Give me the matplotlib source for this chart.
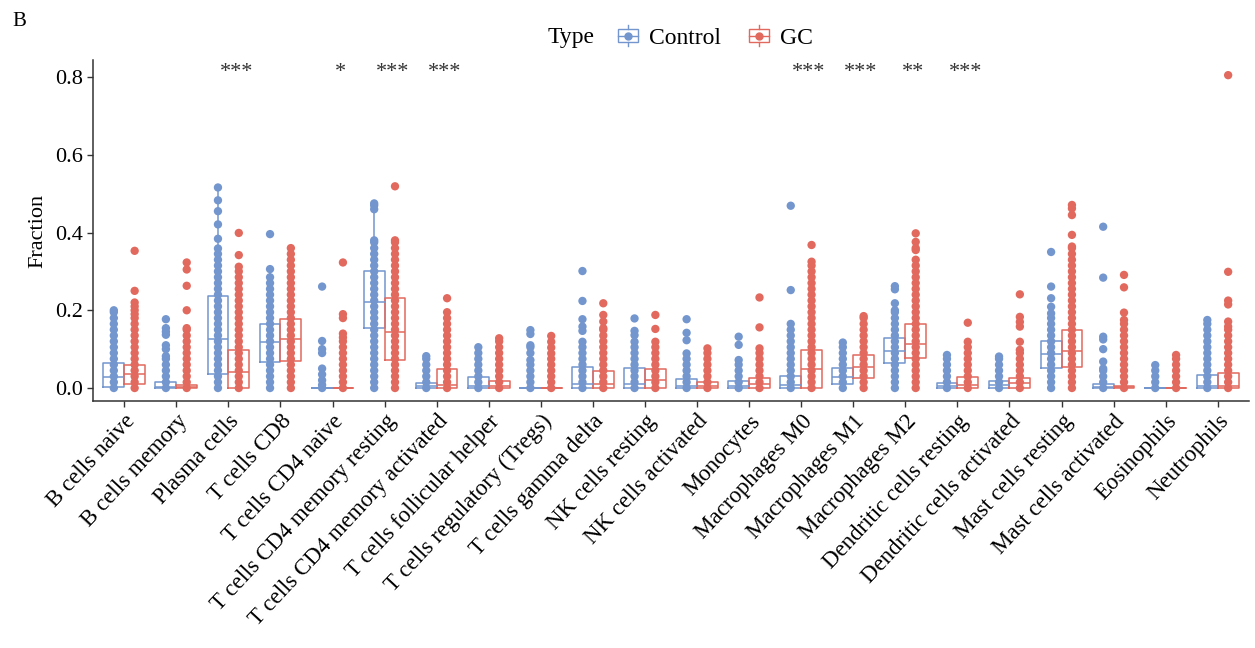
import matplotlib
matplotlib.use('Agg')
import matplotlib.pyplot as plt
from matplotlib.lines import Line2D
from matplotlib.patches import Rectangle
from matplotlib.legend_handler import HandlerBase

plt.rcParams['font.family'] = ['Liberation Serif', 'DejaVu Serif']

cell_types = ['B cells naive', 'B cells memory', 'Plasma cells', 'T cells CD8',
              'T cells CD4 naive', 'T cells CD4 memory resting',
              'T cells CD4 memory activated', 'T cells follicular helper',
              'T cells regulatory (Tregs)', 'T cells gamma delta',
              'NK cells resting', 'NK cells activated', 'Monocytes',
              'Macrophages M0', 'Macrophages M1', 'Macrophages M2',
              'Dendritic cells resting', 'Dendritic cells activated',
              'Mast cells resting', 'Mast cells activated', 'Eosinophils',
              'Neutrophils']

sig_labels = ['', '', '***', '', '*', '***', '***', '', '', '', '', '', '',
              '***', '***', '**', '***', '', '', '', '', '']

# box statistics per cell type
ctrl_q1 = [0.003, 0.0, 0.036, 0.067, 0.0, 0.154, 0.0, 0.0, 0.0, 0.0, 0.0,
           0.0, 0.0, 0.0, 0.010, 0.064, 0.0, 0.0, 0.051, 0.0, 0.0, 0.0]
ctrl_med = [0.028, 0.003, 0.125, 0.119, 0.0, 0.222, 0.005, 0.004, 0.0, 0.010,
            0.010, 0.004, 0.005, 0.008, 0.028, 0.095, 0.006, 0.008, 0.087,
            0.003, 0.0, 0.004]
ctrl_q3 = [0.065, 0.015, 0.237, 0.165, 0.0, 0.301, 0.014, 0.028, 0.0, 0.053,
           0.051, 0.023, 0.019, 0.031, 0.051, 0.128, 0.014, 0.018, 0.121,
           0.010, 0.0, 0.034]

gc_q1 = [0.010, 0.0, 0.0, 0.069, 0.0, 0.072, 0.0, 0.0, 0.0, 0.0, 0.0, 0.0,
         0.0, 0.0, 0.025, 0.076, 0.0, 0.0, 0.055, 0.0, 0.0, 0.0]
gc_med = [0.035, 0.002, 0.040, 0.125, 0.0, 0.145, 0.008, 0.004, 0.0, 0.010,
          0.021, 0.004, 0.010, 0.048, 0.053, 0.113, 0.008, 0.012, 0.096,
          0.002, 0.0, 0.006]
gc_q3 = [0.059, 0.007, 0.098, 0.177, 0.0, 0.231, 0.050, 0.017, 0.0, 0.044,
         0.048, 0.015, 0.025, 0.098, 0.085, 0.165, 0.029, 0.025, 0.149,
         0.006, 0.0, 0.038]

# sample fractions (Control)
ctrl_points = [
    [0, .015, .03, .045, .06, .075, .09, .105, .12, .135, .15, .165, .18, .195, .20],
    [0, .015, .03, .045, .06, .075, .082, .10, .11, .137, .145, .154, .177],
    [0, .015, .03, .045, .06, .075, .09, .105, .12, .135, .15, .165, .18, .195,
     .21, .225, .24, .255, .27, .285, .30, .315, .33, .345, .359, .384, .421,
     .455, .483, .516],
    [0, .015, .03, .045, .06, .075, .09, .105, .12, .135, .15, .165, .18, .195,
     .21, .225, .24, .255, .27, .285, .306, .396],
    [0, .008, .02, .035, .05, .09, .10, .121, .261],
    [0, .015, .03, .045, .06, .075, .09, .105, .12, .135, .15, .165, .18, .195,
     .21, .225, .24, .255, .27, .285, .30, .315, .33, .345, .36, .375, .38,
     .46, .47, .475],
    [0, .015, .03, .045, .06, .075, .082],
    [0, .015, .03, .045, .06, .075, .09, .105],
    [0, .015, .03, .045, .06, .072, .09, .105, .11, .139, .149],
    [0, .015, .03, .045, .06, .075, .09, .105, .119, .147, .158, .177, .224, .301],
    [0, .015, .03, .045, .06, .075, .09, .105, .119, .136, .147, .179],
    [0, .015, .03, .045, .06, .075, .089, .123, .142, .177],
    [0, .015, .03, .045, .06, .072, .111, .132],
    [0, .015, .03, .045, .06, .075, .09, .105, .12, .135, .15, .165, .252, .469],
    [0, .015, .03, .045, .06, .075, .09, .105, .117],
    [0, .015, .03, .045, .06, .075, .09, .105, .12, .135, .15, .165, .18, .195,
     .20, .218, .254, .262],
    [0, .015, .03, .045, .06, .075, .085],
    [0, .015, .03, .045, .06, .075, .081],
    [0, .015, .03, .045, .06, .075, .09, .105, .12, .135, .15, .165, .18, .192,
     .209, .231, .261, .35],
    [0, .015, .03, .045, .05, .068, .10, .125, .132, .284, .415],
    [0, .015, .03, .045, .059],
    [0, .015, .03, .045, .06, .075, .09, .105, .12, .135, .15, .165, .175],
]

# sample fractions (GC)
gc_points = [
    [0, .015, .03, .045, .06, .075, .09, .105, .12, .135, .15, .165, .18, .19,
     .20, .21, .22, .25, .353],
    [0, .015, .03, .045, .06, .075, .09, .105, .12, .135, .15, .154, .20, .263,
     .305, .323],
    [0, .015, .03, .045, .06, .075, .09, .105, .12, .135, .15, .165, .18, .195,
     .21, .225, .24, .255, .27, .285, .30, .312, .342, .399],
    [0, .015, .03, .045, .06, .075, .09, .105, .12, .135, .15, .165, .18, .195,
     .21, .225, .24, .255, .27, .285, .30, .315, .33, .345, .36],
    [0, .015, .03, .045, .06, .075, .09, .105, .12, .13, .14, .18, .19, .323],
    [0, .015, .03, .045, .06, .075, .09, .105, .12, .135, .15, .165, .18, .195,
     .21, .225, .24, .255, .27, .285, .30, .315, .33, .345, .36, .375, .38, .519],
    [0, .015, .03, .045, .06, .075, .09, .105, .12, .135, .15, .165, .18, .195, .231],
    [0, .015, .03, .045, .06, .075, .09, .105, .12, .128],
    [0, .015, .03, .045, .06, .075, .089, .104, .119, .134],
    [0, .015, .03, .045, .06, .075, .09, .105, .12, .135, .15, .154, .171, .188, .218],
    [0, .015, .03, .045, .06, .075, .09, .105, .119, .152, .188],
    [0, .015, .03, .045, .06, .075, .09, .102],
    [0, .015, .03, .045, .06, .075, .09, .102, .156, .233],
    [0, .015, .03, .045, .06, .075, .09, .105, .12, .135, .15, .165, .18, .195,
     .21, .225, .24, .255, .27, .285, .30, .315, .325, .368],
    [0, .015, .03, .045, .06, .075, .09, .105, .12, .135, .15, .165, .18, .185],
    [0, .015, .03, .045, .06, .075, .09, .105, .12, .135, .15, .165, .18, .195,
     .21, .225, .24, .255, .27, .285, .30, .315, .33, .355, .36, .376, .398],
    [0, .015, .03, .045, .06, .075, .09, .105, .119, .168],
    [0, .015, .03, .045, .06, .075, .09, .098, .119, .158, .17, .183, .241],
    [0, .015, .03, .045, .06, .075, .09, .105, .12, .135, .15, .165, .18, .195,
     .21, .225, .24, .255, .27, .285, .30, .315, .33, .345, .36, .364, .394,
     .445, .462, .471],
    [0, .015, .03, .045, .06, .075, .09, .105, .12, .135, .15, .165, .175, .194,
     .259, .291],
    [0, .015, .03, .045, .06, .075, .085],
    [0, .015, .03, .045, .06, .075, .09, .105, .12, .135, .15, .158, .171, .215,
     .225, .299, .805],
]

ctrl_color = '#7396CE'
gc_color = '#E2695E'


def box_stats(pts, q1, med, q3):
    iqr = q3 - q1
    hi = max([p for p in pts if p <= q3 + 1.5 * iqr] + [q3])
    lo = min([p for p in pts if p >= q1 - 1.5 * iqr] + [q1])
    return dict(med=med, q1=q1, q3=q3, whislo=lo, whishi=hi)


class BoxLegendHandler(HandlerBase):
    # little boxplot glyph with a dot in the middle
    def create_artists(self, legend, orig_handle, xdescent, ydescent,
                       width, height, fontsize, trans):
        c = orig_handle.get_color()
        cx = width / 2 - xdescent
        cy = height / 2 - ydescent
        bw, bh = width * 0.85, height * 0.75
        rect = Rectangle((cx - bw / 2, cy - bh / 2), bw, bh, fill=False,
                         edgecolor=c, lw=1.0, transform=trans)
        med = Line2D([cx - bw / 2, cx + bw / 2], [cy, cy], color=c, lw=1.0,
                     transform=trans)
        w_top = Line2D([cx, cx], [cy + bh / 2, cy + height * 0.62], color=c,
                       lw=1.0, transform=trans)
        w_bot = Line2D([cx, cx], [cy - bh / 2, cy - height * 0.62], color=c,
                       lw=1.0, transform=trans)
        dot = Line2D([cx], [cy], marker='o', ms=5, color=c, lw=0,
                     transform=trans)
        return [rect, med, w_top, w_bot, dot]


fig = plt.figure(figsize=(12.55, 6.48), dpi=100)
ax = fig.add_axes([0.0741, 0.3812, 0.9211, 0.5262])

groups = [
    (ctrl_points, ctrl_q1, ctrl_med, ctrl_q3, -0.2, ctrl_color),
    (gc_points, gc_q1, gc_med, gc_q3, 0.2, gc_color),
]

for pts_list, q1s, meds, q3s, off, col in groups:
    stats = [box_stats(p, a, m, b) for p, a, m, b in zip(pts_list, q1s, meds, q3s)]
    pos = [i + off for i in range(len(cell_types))]
    lp = dict(color=col, lw=1.1)
    ax.bxp(stats, positions=pos, widths=0.4, showfliers=False, showcaps=False,
           boxprops=lp, medianprops=lp, whiskerprops=lp)
    for x, pts in zip(pos, pts_list):
        ax.scatter([x] * len(pts), pts, s=36, color=col, edgecolors='none',
                   zorder=3, clip_on=False)

for i, s in enumerate(sig_labels):
    if s:
        ax.text(i + 0.15, 0.812, s, ha='center', va='center', fontsize=16,
                color='#333333')

ax.set_xlim(-0.6, 21.6)
ax.set_ylim(-0.0334, 0.844)
ax.set_xticks(range(len(cell_types)))
ax.set_xticklabels(cell_types, rotation=47, ha='right', va='top',
                   rotation_mode='anchor', fontsize=16.5)
ax.set_yticks([0.0, 0.2, 0.4, 0.6, 0.8])
ax.set_yticklabels(['0.0', '0.2', '0.4', '0.6', '0.8'], fontsize=16)
ax.tick_params(length=4, width=1.0, color='#333333', pad=3,
               labelcolor='black')
ax.set_ylabel('Fraction', fontsize=16, labelpad=6)

for side in ['top', 'right']:
    ax.spines[side].set_visible(False)
for side in ['left', 'bottom']:
    ax.spines[side].set_color('#333333')
    ax.spines[side].set_linewidth(1.1)

handles = [Line2D([], [], color=ctrl_color), Line2D([], [], color=gc_color)]
fig.legend(handles, ['Control', 'GC'], handler_map={Line2D: BoxLegendHandler()},
           loc='center left', bbox_to_anchor=(616 / 1255, 1 - 38 / 648),
           ncol=2, frameon=False, fontsize=17, handlelength=1.0,
           handletextpad=0.4, columnspacing=1.1, borderpad=0,
           borderaxespad=0)
fig.text(548 / 1255, 1 - 38 / 648, 'Type', fontsize=17, va='center', ha='left')
fig.text(12 / 1255, 1 - 21 / 648, 'B', fontsize=15, va='center', ha='left')

fig.savefig('out.png', dpi=100)
